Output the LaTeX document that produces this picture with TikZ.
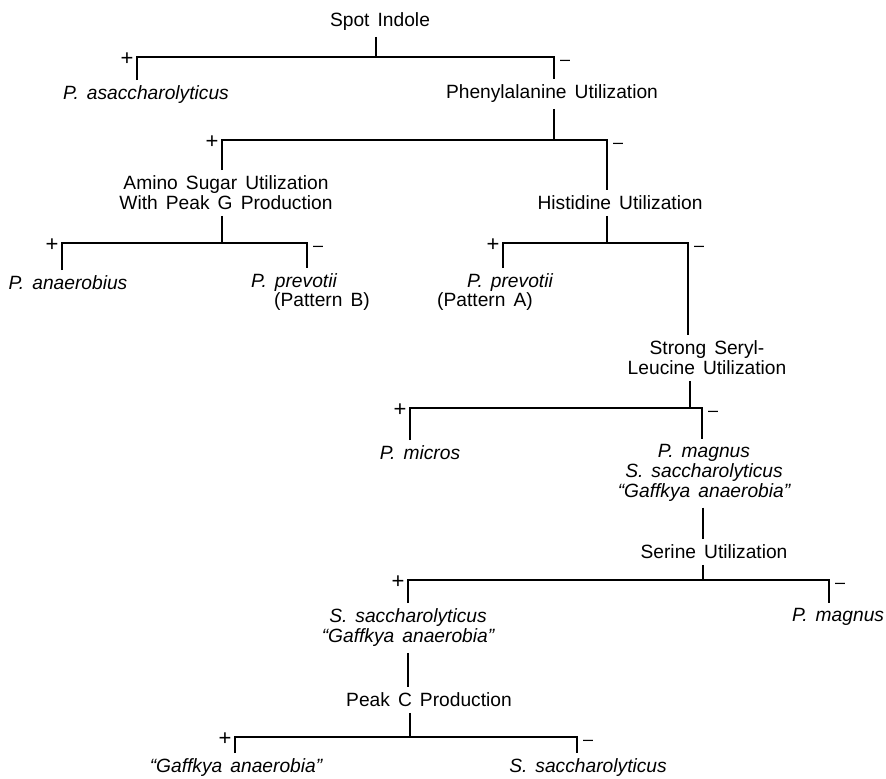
\documentclass[tikz,border=0pt]{standalone}
\usepackage{fontspec}
\setmainfont{Liberation Sans}
\usepackage{tikz}
\newcommand\widesp{\spaceskip=0.42em\relax}

\begin{document}
\begin{tikzpicture}[x=0.5pt, y=-0.5pt, line width=0.9pt,
  crit/.style={inner sep=2.5pt, align=center, font=\fontsize{9.6}{10}\selectfont\widesp},
  taxon/.style={inner sep=2.5pt, align=center, font=\fontsize{9.6}{10}\selectfont\itshape\widesp},
  plussgn/.style={inner sep=0pt, font=\fontsize{11}{12}\selectfont},
  minussgn/.style={inner sep=0pt, font=\fontsize{9}{10}\selectfont}]
    \useasboundingbox (0,0) rectangle (886,778);
    % tests and outcomes
    \node (spot) at (380,22) [crit] {Spot Indole};
    \node (asacch) at (146,95) [taxon] {P. asaccharolyticus};
    \node (phenyl) at (552,94) [crit] {Phenylalanine Utilization};
    \node (amino) at (226,193) [crit] {Amino Sugar Utilization\\With Peak G Production};
    \node (histi) at (620,203) [crit] {Histidine Utilization};
    \node (anaer) at (68,283) [taxon] {P. anaerobius};
    \node (prevB) at (294,283) [taxon] {P. prevotii};
    \node (patB) at (322,302) [crit] {(Pattern B)};
    \node (prevA) at (510,283) [taxon] {P. prevotii};
    \node (patA) at (485,302) [crit] {(Pattern A)};
    \node (seryl) at (707,358) [crit] {Strong Seryl-\\Leucine Utilization};
    \node (micros) at (420,453) [taxon] {P. micros};
    \node (mix) at (704,473) [taxon] {P. magnus\\S. saccharolyticus\\``Gaffkya anaerobia''};
    \node (serine) at (714,552) [crit] {Serine Utilization};
    \node (sgaff) at (408,628) [taxon] {S. saccharolyticus\\``Gaffkya anaerobia''};
    \node (magnus) at (838,617) [taxon] {P. magnus};
    \node (peakc) at (429,700) [crit] {Peak C Production};
    \node (gaff) at (236,768) [taxon] {``Gaffkya anaerobia''};
    \node (ssac) at (588,768) [taxon] {S. saccharolyticus};
    % bar ends and stems
    \coordinate (b1m) at (376,57); \coordinate (b1l) at (137,57); \coordinate (b1r) at (554,57);
    \coordinate (b2m) at (554,140); \coordinate (b2l) at (222,140); \coordinate (b2r) at (607,140);
    \coordinate (b3m) at (222,243); \coordinate (b3l) at (62,243); \coordinate (b3r) at (307,243);
    \coordinate (b4m) at (607,243); \coordinate (b4l) at (503,243); \coordinate (b4r) at (688,243);
    \coordinate (b5m) at (690,408); \coordinate (b5l) at (410,408); \coordinate (b5r) at (702,408);
    \coordinate (b6m) at (703,580); \coordinate (b6l) at (408,580); \coordinate (b6r) at (829,580);
    \coordinate (b7m) at (410,737); \coordinate (b7l) at (235,737); \coordinate (b7r) at (577,737);
    \draw (spot.south -| b1m) -- (b1m);
    \draw (asacch.north -| b1l) -- (b1l) -- (b1r) -- (phenyl.north -| b1r);
    \draw (phenyl.south -| b2m) -- (b2m);
    \draw (amino.north -| b2l) -- (b2l) -- (b2r) -- (histi.north -| b2r);
    \draw (amino.south -| b3m) -- (b3m);
    \draw (anaer.north -| b3l) -- (b3l) -- (b3r) -- (prevB.north -| b3r);
    \draw (histi.south -| b4m) -- (b4m);
    \draw (prevA.north -| b4l) -- (b4l) -- (b4r) -- (seryl.north -| b4r);
    \draw (seryl.south -| b5m) -- (b5m);
    \draw (micros.north -| b5l) -- (b5l) -- (b5r) -- (mix.north -| b5r);
    \draw (mix.south -| b6m) -- (serine.north -| b6m);
    \draw (serine.south -| b6m) -- (b6m);
    \draw (sgaff.north -| b6l) -- (b6l) -- (b6r) -- (magnus.north -| b6r);
    \draw (sgaff.south -| b6l) -- (peakc.north -| b6l);
    \draw (peakc.south -| b7m) -- (b7m);
    \draw (gaff.north -| b7l) -- (b7l) -- (b7r) -- (ssac.north -| b7r);
    % signs
    \node (s1p) at ([shift={(-10,2)}]b1l) [plussgn] {+};
    \node (s1m) at ([shift={(11,6)}]b1r) [minussgn] {--};
    \node (s2p) at ([shift={(-10,2)}]b2l) [plussgn] {+};
    \node (s2m) at ([shift={(11,6)}]b2r) [minussgn] {--};
    \node (s3p) at ([shift={(-10,2)}]b3l) [plussgn] {+};
    \node (s3m) at ([shift={(11,6)}]b3r) [minussgn] {--};
    \node (s4p) at ([shift={(-10,2)}]b4l) [plussgn] {+};
    \node (s4m) at ([shift={(11,6)}]b4r) [minussgn] {--};
    \node (s5p) at ([shift={(-10,2)}]b5l) [plussgn] {+};
    \node (s5m) at ([shift={(11,6)}]b5r) [minussgn] {--};
    \node (s6p) at ([shift={(-10,2)}]b6l) [plussgn] {+};
    \node (s6m) at ([shift={(11,6)}]b6r) [minussgn] {--};
    \node (s7p) at ([shift={(-10,2)}]b7l) [plussgn] {+};
    \node (s7m) at ([shift={(11,6)}]b7r) [minussgn] {--};
\end{tikzpicture}
\end{document}
